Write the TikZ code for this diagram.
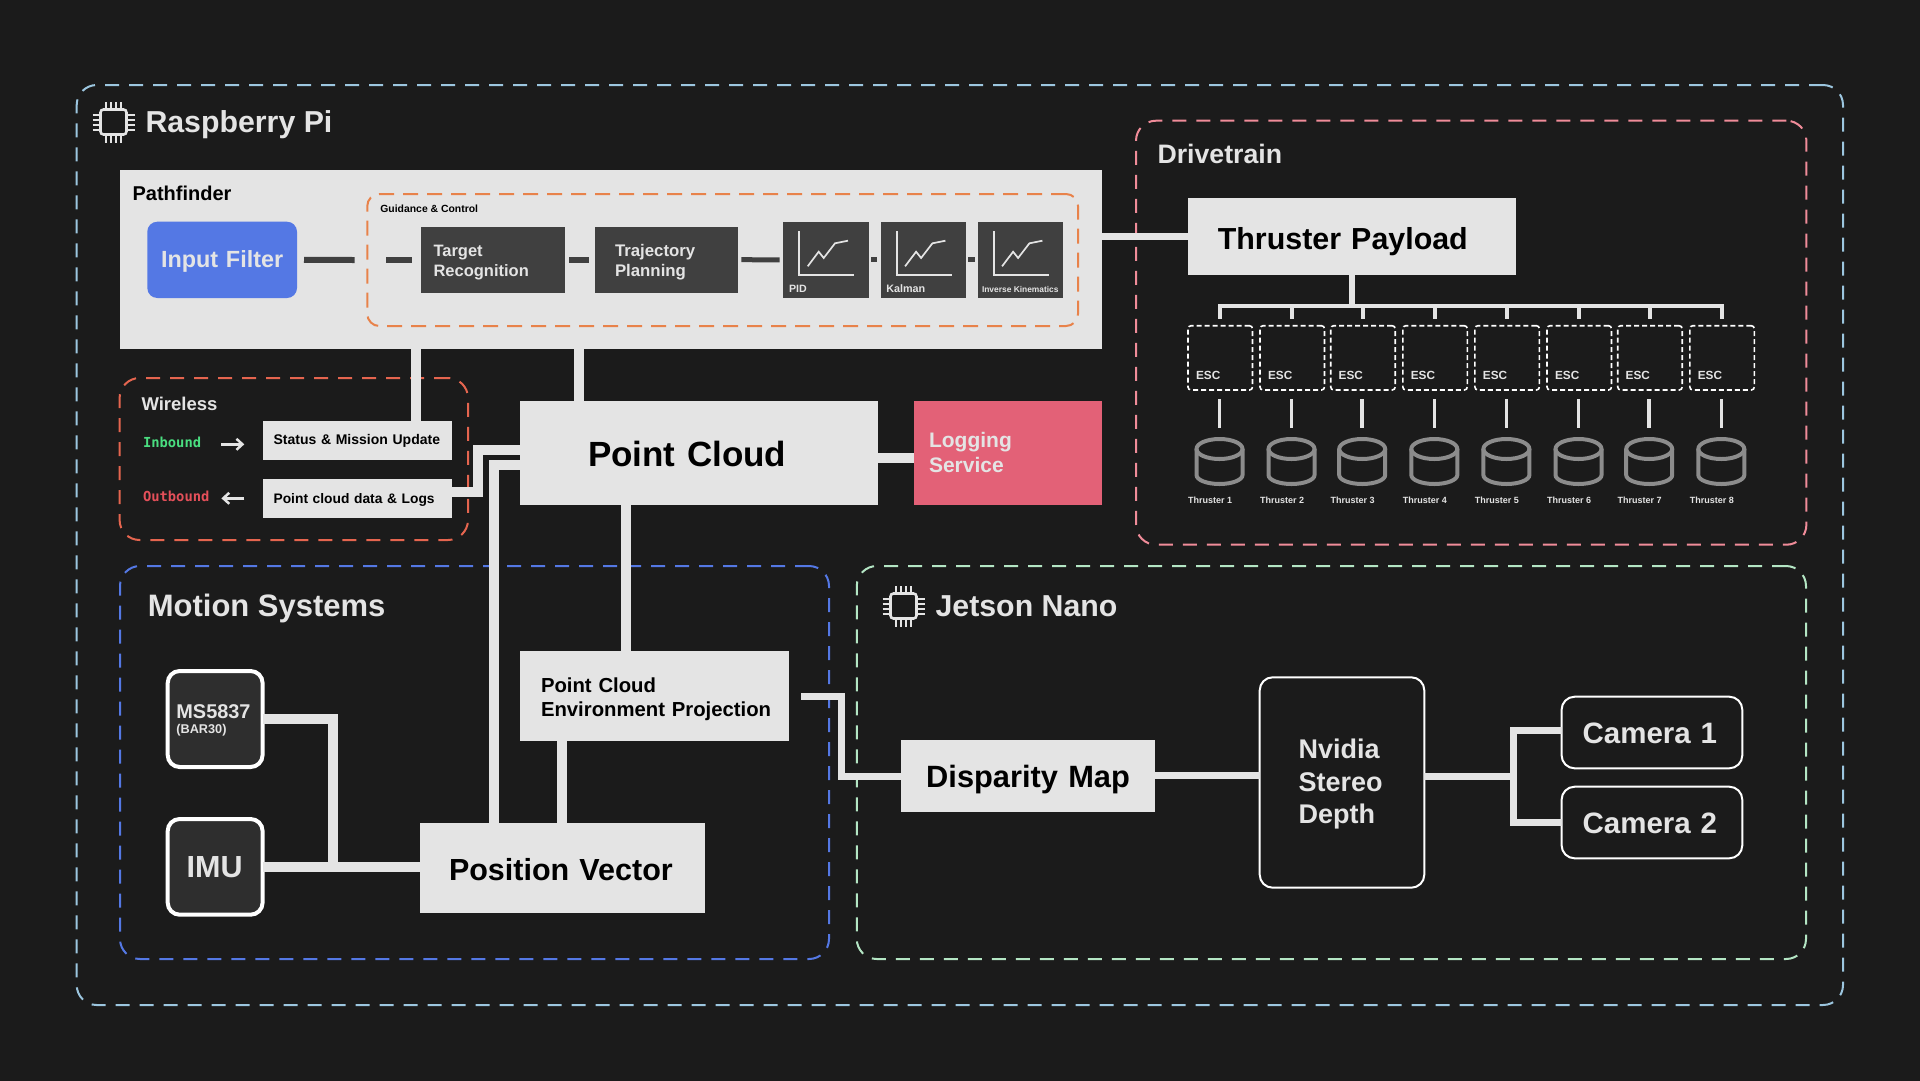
\documentclass[tikz,border=0pt]{standalone}
\usepackage{fontspec}
\setmainfont{Liberation Sans}
\newfontfamily\monof{DejaVu Sans Mono}
\usetikzlibrary{arrows.meta}
\definecolor{bgc}{HTML}{1B1B1B}
\definecolor{lite}{HTML}{E4E4E4}
\definecolor{dark}{HTML}{404040}
\definecolor{chipc}{HTML}{2E2E2E}
\definecolor{blueb}{HTML}{5478E4}
\definecolor{rosebox}{HTML}{E36177}
\definecolor{cyanf}{HTML}{9CC6DF}
\definecolor{pinkf}{HTML}{F08C99}
\definecolor{orangef}{HTML}{E8824A}
\definecolor{redf}{HTML}{E5654F}
\definecolor{greenf}{HTML}{B4E6C4}
\definecolor{cylc}{HTML}{8C8C8C}
\definecolor{inbc}{HTML}{4ADE80}
\definecolor{outbc}{HTML}{E5505A}
\newcommand\fz[2]{\fontsize{#1pt}{#2pt}\selectfont\bfseries}
\newcommand\tl[3][0]{\hspace*{#2pt}\raisebox{#1pt}[.72em][0pt]{#3}}
\newcommand\bx[7][]{\node[bxbase,minimum width={(#5-#3)*1pt},minimum height={(#6-#4)*1pt},text width={(#5-#3)*1pt},#1] (#2) at (#3,#4) {#7};}
\tikzset{
  x=1pt,y=-1pt,
  bxbase/.style={anchor=north west,inner sep=0pt,outer sep=0pt,align=left,rectangle},
  lightbox/.style={bxbase,fill=lite,text=black},
  darkbox/.style={bxbase,fill=dark,text=lite},
  outlinebox/.style={bxbase,draw=white,line width=2pt,rounded corners=13pt,text=lite},
  sensorbox/.style={bxbase,draw=white,line width=4pt,rounded corners=12pt,fill=chipc,text=lite},
  group/.style={bxbase,draw=#1,line width=2pt,rounded corners=20pt,dash pattern=on 14pt off 10pt},
  escbox/.style={bxbase,draw=white,line width=1.6pt,rounded corners=3pt,dash pattern=on 5pt off 3pt},
  lab/.style={anchor=base west,inner sep=0pt,outer sep=0pt,text=#1},
  wire/.style={draw=lite,line width=10pt,line join=miter},
  wirethin/.style={draw=lite,line width=7pt,line join=miter},
  wiredark/.style={draw=dark,line width=6pt},
  cylline/.style={draw=cylc,line width=4pt},
  chartline/.style={draw=lite,line width=1.7pt},
  pinline/.style={draw=lite,line width=2pt},
  lightarrow/.style={draw=lite,line width=2.5pt,-{Straight Barb[length=6pt,width=11pt,line width=2.5pt]}},
}
\newcommand\chipicon[2]{%
  \begin{scope}[shift={(#1,#2)}]
    \draw[pinline,line width=2.6pt,rounded corners=3pt] (-13,-12.5) rectangle (13,12.5);
    \foreach \p in {-7.5,-2.5,2.5,7.5} {
      \draw[pinline] (\p,-20) -- (\p,-13);
      \draw[pinline] (\p,13) -- (\p,20.5);
      \draw[pinline] (-21,\p) -- (-13,\p);
      \draw[pinline] (13,\p) -- (21,\p);
    }
  \end{scope}}
\newcommand\chartbox[2]{%
  \begin{scope}[shift={(#1,#2)}]
    \draw[chartline] (16,9) -- (16,52.7) -- (71,52.7);
    \draw[chartline] (24.4,44.3) -- (35.4,29.7) -- (40.4,36) -- (51.7,21.3) -- (64.7,18.7);
  \end{scope}}
\begin{document}
\begin{tikzpicture}
\useasboundingbox (0,0) rectangle (1920,1080);
\fill[bgc] (-3,-3) rectangle (1923,1083);

% groups
\bx[group=cyanf]{rpi}{76.7}{85}{1843}{1005}{}
\bx[group=pinkf]{drive}{1136}{120.7}{1806.4}{544.7}{}
\bx[group=redf]{wless}{119.6}{378}{468}{540}{}
\bx[group=blueb]{motion}{120}{566}{829}{959}{}
\bx[group=greenf]{jetson}{856.8}{566}{1806}{959}{}

% group titles
\node[lab=lite,font=\fz{30.3}{33}] (trpi) at (145.5,132.3) {Raspberry Pi};
\node[lab=lite,font=\fz{26.7}{30}] (tdrive) at (1157.5,163.5) {Drivetrain};
\node[lab=lite,font=\fz{18.5}{20}] (twl) at (141.5,410) {Wireless};
\node[lab=lite,font=\fz{31}{33}] (tmot) at (147.8,616.5) {Motion Systems};
\node[lab=lite,font=\fz{30.3}{33}] (tjet) at (935.6,616.5) {Jetson Nano};
\chipicon{113.5}{122}
\chipicon{903.5}{606}

% pathfinder
\bx[lightbox]{pf}{120}{170}{1102}{349.3}{}
\node[lab=black,font=\fz{20}{22}] (tpf) at (132.6,200) {Pathfinder};
\bx[bxbase,fill=blueb,text=lite,rounded corners=10pt,font=\fz{23.4}{26}]{inp}{147.3}{221.7}{297}{298}{\tl[1]{13.7}{Input Filter}}
\bx[group=orangef,rounded corners=12pt,dash pattern=on 15pt off 9pt]{guid}{367.3}{194}{1078}{326}{}
\node[lab=black,font=\fz{10.4}{12}] (tgc) at (380.4,212) {Guidance \& Control};
\bx[darkbox,font=\fz{16.5}{20}]{tr}{421.2}{226.7}{565}{292.7}{\tl[-1]{12.3}{Target}\\\tl[-1]{12.3}{Recognition}}
\bx[darkbox,font=\fz{16.8}{20}]{tj}{594.7}{226.7}{738}{292.7}{\tl[-1]{20.3}{Trajectory}\\\tl[-1]{20.3}{Planning}}
\bx[darkbox]{pid}{783.3}{222}{868.7}{297.7}{}
\bx[darkbox]{kal}{880.7}{222}{965.7}{297.7}{}
\bx[darkbox]{ik}{977.7}{222}{1063}{297.7}{}
\chartbox{783.3}{222}
\chartbox{880.7}{222}
\chartbox{977.7}{222}
\node[lab=lite,font=\fz{10.6}{12}] (tpid) at (789,292) {PID};
\node[lab=lite,font=\fz{10.8}{12}] (tkal) at (886.3,292) {Kalman};
\node[lab=lite,font=\fz{8.4}{10}] (tik) at (982,292) {Inverse Kinematics};
\draw[wiredark] ([xshift=7pt]inp.east) -- ([xshift=-12.6pt]guid.west);
\draw[wiredark] ([xshift=-35pt]tr.west) -- ([xshift=-9.2pt]tr.west);
\draw[wiredark] ([xshift=4pt]tr.east) -- ([xshift=-6pt]tj.west);
\draw[wiredark,line width=5pt] ([xshift=3.3pt]tj.east) -- ([xshift=-3.6pt]pid.west);
\draw[wiredark,line width=5pt] ([xshift=2.3pt]pid.east) -- ([xshift=-3.4pt]kal.west);
\draw[wiredark,line width=5pt] ([xshift=2.3pt]kal.east) -- ([xshift=-3pt]ik.west);

% wireless
\node[lab=inbc,font=\monof\fontsize{13.8pt}{15pt}\selectfont\bfseries] (inb) at (143,447.5) {Inbound};
\node[lab=outbc,font=\monof\fontsize{13.8pt}{15pt}\selectfont\bfseries] (outb) at (143,501.5) {Outbound};
\bx[lightbox,font=\fz{14}{16}]{st}{262.9}{421}{452}{459.7}{\tl[1]{10.7}{Status \& Mission Update}}
\bx[lightbox,font=\fz{13.8}{16}]{pd}{262.9}{479}{452}{517.7}{\tl{10.7}{Point cloud data \& Logs}}
\coordinate (ia1) at (221.4,444.3);
\coordinate (ia2) at (244.3,444.3);
\coordinate (oa1) at (244.3,498.3);
\coordinate (oa2) at (221.4,498.3);
\draw[lightarrow] (ia1) -- (ia2);
\draw[lightarrow] (oa1) -- (oa2);

% centre
\bx[lightbox,font=\fz{35}{38}]{pc}{520}{400.7}{878}{505.3}{\tl[-0.7]{68}{Point Cloud}}
\bx[bxbase,fill=rosebox,text=lite,font=\fz{21}{25}]{lg}{914}{401}{1102}{505}{\tl[1]{15}{Logging}\\\tl[1]{15}{Service}}
\bx[lightbox,font=\fz{20.3}{24}]{env}{520}{651.3}{788.6}{741.3}{\tl[-0.7]{21}{Point Cloud}\\\tl[-0.7]{21}{Environment Projection}}
\bx[lightbox,font=\fz{30.5}{33}]{pv}{420}{823.3}{704.8}{913.3}{\tl[-1]{29}{Position Vector}}
\bx[sensorbox,font=\fz{19.9}{13.5}]{ms}{167.7}{671}{262.6}{767}{\tl{8.7}{MS5837}\\\tl{8.7}{\fontsize{12.7pt}{13.5pt}\selectfont (BAR30)}}
\bx[sensorbox,font=\fz{30.5}{33}]{imu}{167.7}{819}{262.6}{914.7}{\tl{19}{IMU}}

% jetson
\bx[lightbox,font=\fz{30.8}{33}]{dm}{900.7}{740}{1155}{811.7}{\tl[-0.7]{25.5}{Disparity Map}}
\bx[outlinebox,font=\fz{27}{32.5}]{nv}{1259.7}{677.3}{1424.3}{887.7}{\tl[1]{38.9}{Nvidia}\\\tl[1]{38.9}{Stereo}\\\tl[1]{38.9}{Depth}}
\bx[outlinebox,font=\fz{29.5}{32}]{cam1}{1561.6}{696.7}{1742.3}{768.3}{\tl{21}{Camera 1}}
\bx[outlinebox,font=\fz{29.5}{32}]{cam2}{1561.6}{786.7}{1742.3}{858.3}{\tl{21}{Camera 2}}

% drivetrain
\bx[lightbox,font=\fz{30.4}{33}]{tp}{1188}{198.3}{1515.8}{274.7}{\tl[-2.3]{29.8}{Thruster Payload}}
\coordinate (bus) at (1351.4,306);
\foreach \i/\xo in {1/1188,2/1260,3/1330.7,4/1402.8,5/1474.9,6/1547,7/1617.7,8/1689.8} {
  \pgfmathsetmacro\xe{\xo+64.5}
  \pgfmathsetmacro\xc{\xo+31.5}
  \bx[escbox]{esc\i}{\xo}{325.7}{\xe}{390}{}
  \node[lab=lite,font=\fz{11.8}{13}] (tesc\i) at (\xo+8,379) {ESC};
  \node[bxbase,anchor=center,minimum width=50pt,minimum height=49pt] (cyl\i) at (\xc,461.5) {};
  \draw[cylline] (\xc,449) ellipse [x radius=23pt,y radius=10pt];
  \draw[cylline] (\xc-23,449) -- (\xc-23,475) arc [start angle=180,end angle=360,x radius=23pt,y radius=9pt] -- (\xc+23,449);
  \node[lab=lite,font=\fz{9}{10}] (tth\i) at (\xo,503.3) {Thruster \i};
  \draw[draw=lite,line width=4pt] (esc\i.north |- bus) -- ([yshift=6.4pt]esc\i.north);
  \draw[draw=lite,line width=3.6pt] ([yshift=-9.3pt]esc\i.south -| cyl\i.north) -- ([yshift=9.5pt]cyl\i.north);
}
\draw[draw=lite,line width=4pt,line cap=rect] (esc1.north |- bus) -- (esc8.north |- bus);
\draw[draw=lite,line width=6.5pt] (tp.south) -- (tp.south |- bus);

% connectors
\draw[wirethin] (tp.west -| pf.east) -- (tp.west);
\draw[wire] ([xshift=58.5pt]st.north) -- ([xshift=58.5pt]st.north |- pf.south);
\draw[wire] ([xshift=-120pt]pc.north) -- ([xshift=-120pt]pc.north |- pf.south);
\draw[wire] ([yshift=-4.7pt]pc.east) -- ([yshift=-4.7pt]pc.east -| lg.west);
\coordinate (b1) at (477.9,450);
\draw[wire] ([yshift=6.5pt]pd.east) -| (b1) -- (b1 -| pc.west);
\coordinate (b2) at (494,465);
\draw[wire] (b2 |- pv.north) -- (b2) -- (b2 -| pc.west);
\coordinate (b4) at (626,600);
\draw[wire] (b4 |- pc.south) -- (b4 |- env.north);
\draw[wire] (pv.north) -- (pv.north |- env.south);
\coordinate (j1) at (333,867);
\draw[wire] (ms.east) -| (j1);
\draw[wire] (imu.east) -- (imu.east -| pv.west);
\coordinate (b3) at (841.7,776);
\draw[wirethin] ([xshift=12.4pt]env.east) -| (b3) -- (b3 -| dm.west);
\draw[wirethin] (dm.east) -- (dm.east -| nv.west);
\coordinate (split) at (1513,776);
\draw[wirethin] (split -| nv.east) -- (split);
\draw[wirethin] ([yshift=2pt]cam1.west) -| (split) |- (cam2.west);
\end{tikzpicture}
\end{document}
